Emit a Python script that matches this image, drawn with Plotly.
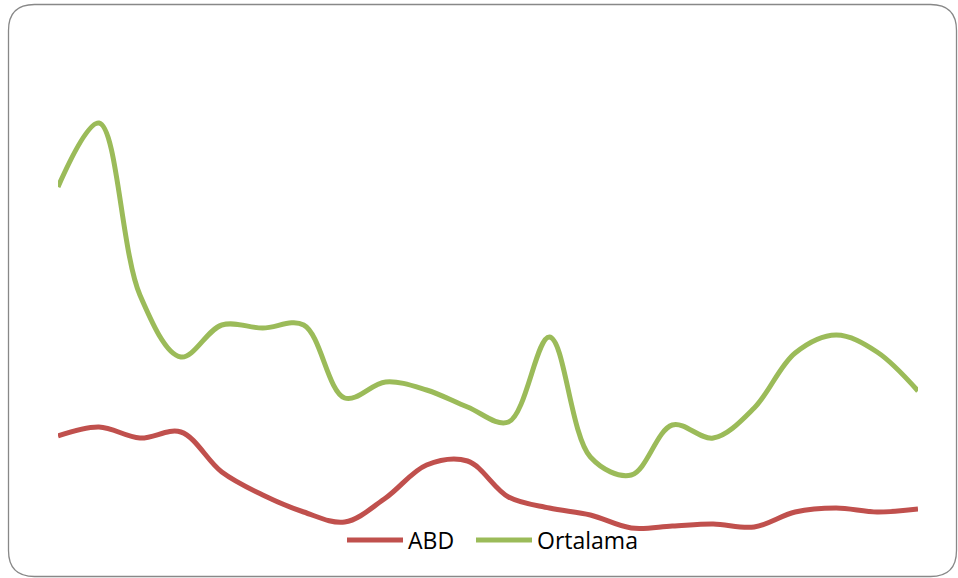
import plotly.graph_objects as go

# Data (22 periods, unlabeled)
periods = list(range(22))
abd = [4.16, 4.52, 4.08, 4.32, 2.72, 1.80, 1.12, 0.72, 1.68, 3.00, 3.16,
       1.72, 1.28, 1.00, 0.48, 0.56, 0.64, 0.52, 1.12, 1.28, 1.12, 1.24]
ortalama = [14.12, 16.68, 9.80, 7.32, 8.60, 8.48, 8.60, 5.68, 6.32, 6.00, 5.32,
            4.72, 8.12, 3.32, 2.60, 4.60, 4.08, 5.28, 7.48, 8.20, 7.52, 5.96]
series_names = ["ABD", "Ortalama"]

W, H = 958, 578
L, R, T, B = 58, 40, 40, 38
pw, ph = W - L - R, H - T - B

def px(x):
    return (x - L) / pw

def py(y):
    return (H - B - y) / ph

fig = go.Figure()
fig.add_trace(go.Scatter(x=periods, y=abd, name=series_names[0], mode="lines", legend="legend",
                         line=dict(color="#C0504D", width=5, shape="spline", smoothing=1.0)))
fig.add_trace(go.Scatter(x=periods, y=ortalama, name=series_names[1], mode="lines", legend="legend2",
                         line=dict(color="#9BBB59", width=5, shape="spline", smoothing=1.0)))

# rounded outer border
x0, y0, x1, y1, r = 8.5, 4.5, 956.5, 576.5, 26
path = (f"M {px(x0 + r)},{py(y0)} L {px(x1 - r)},{py(y0)} "
        f"Q {px(x1)},{py(y0)} {px(x1)},{py(y0 + r)} "
        f"L {px(x1)},{py(y1 - r)} Q {px(x1)},{py(y1)} {px(x1 - r)},{py(y1)} "
        f"L {px(x0 + r)},{py(y1)} Q {px(x0)},{py(y1)} {px(x0)},{py(y1 - r)} "
        f"L {px(x0)},{py(y0 + r)} Q {px(x0)},{py(y0)} {px(x0 + r)},{py(y0)} Z")
fig.add_shape(type="path", path=path, xref="paper", yref="paper",
              line=dict(color="#888888", width=1.3), layer="below")

legend_common = dict(orientation="h", xanchor="left", y=py(540), yanchor="middle",
                     font=dict(family="Open Sans", size=23, color="black"),
                     itemwidth=56, bgcolor="rgba(0,0,0,0)")

fig.update_layout(
    width=W, height=H,
    margin=dict(l=L, r=R, t=T, b=B),
    paper_bgcolor="white", plot_bgcolor="white",
    xaxis=dict(range=[0, 21], visible=False),
    yaxis=dict(range=[0, 20], visible=False),
    showlegend=True,
    legend=dict(x=px(342), **legend_common),
    legend2=dict(x=px(471), **legend_common),
)

fig.write_html("out.html", post_script="document.body.style.margin='0';",
               config={"displayModeBar": False})
